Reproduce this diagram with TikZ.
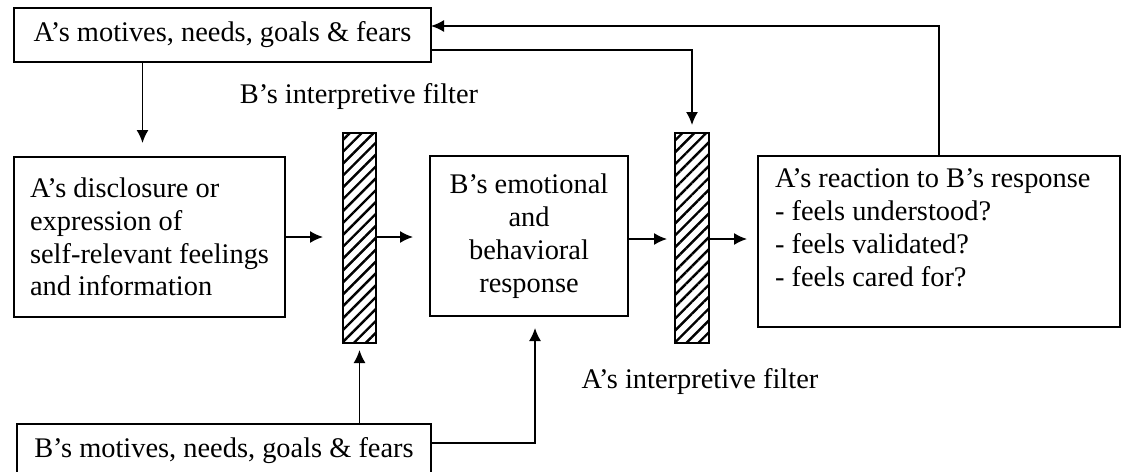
\documentclass[tikz,border=0pt]{standalone}
\usepackage{fontspec}
\setmainfont{Liberation Serif}
\usetikzlibrary{arrows.meta,patterns.meta}
\begin{document}
\begin{tikzpicture}[x=0.5pt, y=-0.5pt]
\tikzset{ >={Latex[length=6.5pt,width=6pt]}, inner sep=0pt, outer sep=0pt,
  every node/.append style={font=\fontsize{14.2}{16.4}\selectfont},
  box/.style={draw, line width=0.75pt},
  filt/.style={draw, line width=1pt, minimum width=16.5pt, minimum height=105pt,
    pattern={Lines[angle=45,distance=4.2pt,line width=1.2pt]}},
  link/.style={->, line width=0.75pt} }

\useasboundingbox (0,0) rectangle (1122,471);

%\draw [lightgray, dashed](0,0) grid[step=50] (1122,471);

\node [box, minimum width=208.5pt, minimum height=27pt] (Amot) at (222.5,35) {A's motives, needs, goals \& fears};
\node [box, minimum width=135.5pt, minimum height=80pt, align=left] (Adisc) at (149.5,237)
  {A's disclosure or\\ expression of\\ self-relevant feelings\\ and information};
\node [filt] (F1) at (359.5,238) {};
\node [box, minimum width=99pt, minimum height=80pt, align=center] (Bemo) at (529,236)
  {B's emotional\\ and\\ behavioral\\ response};
\node [filt, minimum width=17pt] (F2) at (692,238) {};
\node [box, minimum width=181pt, minimum height=85.5pt] (Areac) at (939,241.5) {};
\node [anchor=north west, align=left] (Areac text) at (775,169)
  {A's reaction to B's response\\ - feels understood?\\ - feels validated?\\ - feels cared for?};
\node [box, minimum width=207pt, minimum height=27pt] (Bmot) at (224,451) {B's motives, needs, goals \& fears};

\node (Bfilt) at (359,97) {B's interpretive filter};
\node (Afilt) at (700,382) {A's interpretive filter};

\draw [link, shorten >=7pt] ([xshift=-3.5pt]Adisc.north |- Amot.south) -- ([xshift=-3.5pt]Adisc.north);
\draw [link, shorten >=10pt] (Adisc.east) -- (Adisc.east -| F1.west);
\draw [link, shorten >=8.5pt] (F1.east |- Adisc.east) -- (Adisc.east -| Bemo.west);
\draw [link, shorten >=4pt] ([yshift=-1.5pt]Bemo.east) -- ([yshift=-1.5pt]Bemo.east -| F2.west);
\draw [link, shorten >=5.5pt] ([yshift=-1.5pt]Bemo.east -| F2.east) -- ([yshift=-1.5pt]Bemo.east -| Areac.west);
\draw [link, shorten >=4pt] ([yshift=-7.5pt]Amot.east) -| (F2.north);
\draw [link] (Areac.north) |- ([yshift=4.5pt]Amot.east);
\draw [link, shorten >=3.5pt] (Bmot.north -| F1.south) -- (F1.south);
\draw [link, shorten >=6pt] ([yshift=4pt]Bmot.east) -| ([xshift=3pt]Bemo.south);
\end{tikzpicture}
\end{document}
